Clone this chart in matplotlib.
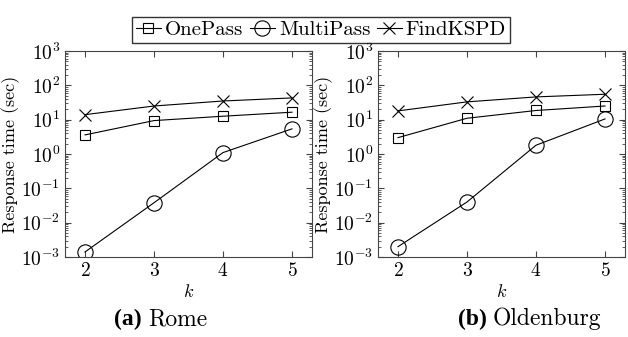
import numpy as np
import matplotlib.pyplot as plt

k = [2, 3, 4, 5]
rome_one = [3.6, 9.4, 12.6, 16.5]
rome_multi = [0.0014, 0.038, 1.1, 5.4]
rome_find = [14, 25, 35, 43]
old_one = [3.0, 11, 18.5, 25]
old_multi = [0.002, 0.04, 1.8, 10.5]
old_find = [18, 33, 46, 55]
captions = [("(a)", "Rome"), ("(b)", "Oldenburg")]

plt.rcParams["font.family"] = ["cmr10", "DejaVu Serif"]
plt.rcParams["mathtext.fontset"] = "cm"
plt.rcParams["axes.formatter.use_mathtext"] = True

fig = plt.figure(figsize=(6.28, 3.37), dpi=100)
lefts = [65 / 628, 378 / 628]
cap_x = [148 / 628, 493 / 628]
data = [(rome_one, rome_multi, rome_find), (old_one, old_multi, old_find)]

handles = None
for i, (one, multi, find) in enumerate(data):
    ax = fig.add_axes([lefts[i], 80 / 337, 247 / 628, 206 / 337])
    kw = dict(color="black", lw=0.8, mfc="none", mec="black", mew=0.8)
    h1, = ax.plot(k, one, marker="s", ms=7, label="OnePass", **kw)
    h2, = ax.plot(k, multi, marker="o", ms=11, label="MultiPass", **kw)
    h3, = ax.plot(k, find, marker="x", ms=9, label="FindKSPD", **kw)
    handles = [h1, h2, h3]
    ax.set_yscale("log")
    ax.set_ylim(1e-3, 1e3)
    ax.set_xlim(1.71, 5.29)
    ax.set_xticks(k)
    ax.set_yticks([1e-3, 1e-2, 1e-1, 1e0, 1e1, 1e2, 1e3])
    ax.tick_params(which="both", direction="in", top=True, right=True,
                   labelsize=14, colors="#444444", labelcolor="black")
    ax.tick_params(which="major", length=4)
    ax.tick_params(which="minor", length=2)
    for s in ax.spines.values():
        s.set_color("#444444")
        s.set_linewidth(0.8)
    ax.set_ylabel("Response time (sec)", fontsize=13, labelpad=1)
    ax.set_xlabel(r"$k$", fontsize=13, labelpad=2)
    fig.text(cap_x[i], 18 / 337, captions[i][0] + " ", ha="right", va="center",
             fontsize=17, fontweight="bold", family="Liberation Serif")
    fig.text(cap_x[i], 18 / 337, captions[i][1], ha="left", va="center", fontsize=17)

fig.legend(handles=handles, loc="center", bbox_to_anchor=(321 / 628, 307 / 337),
           ncol=3, fontsize=15, frameon=True, fancybox=False, edgecolor="black",
           handlelength=1.2, handletextpad=0.2, columnspacing=0.3,
           borderpad=0.2, borderaxespad=0, markerscale=1)

fig.savefig("out.png", dpi=100)
